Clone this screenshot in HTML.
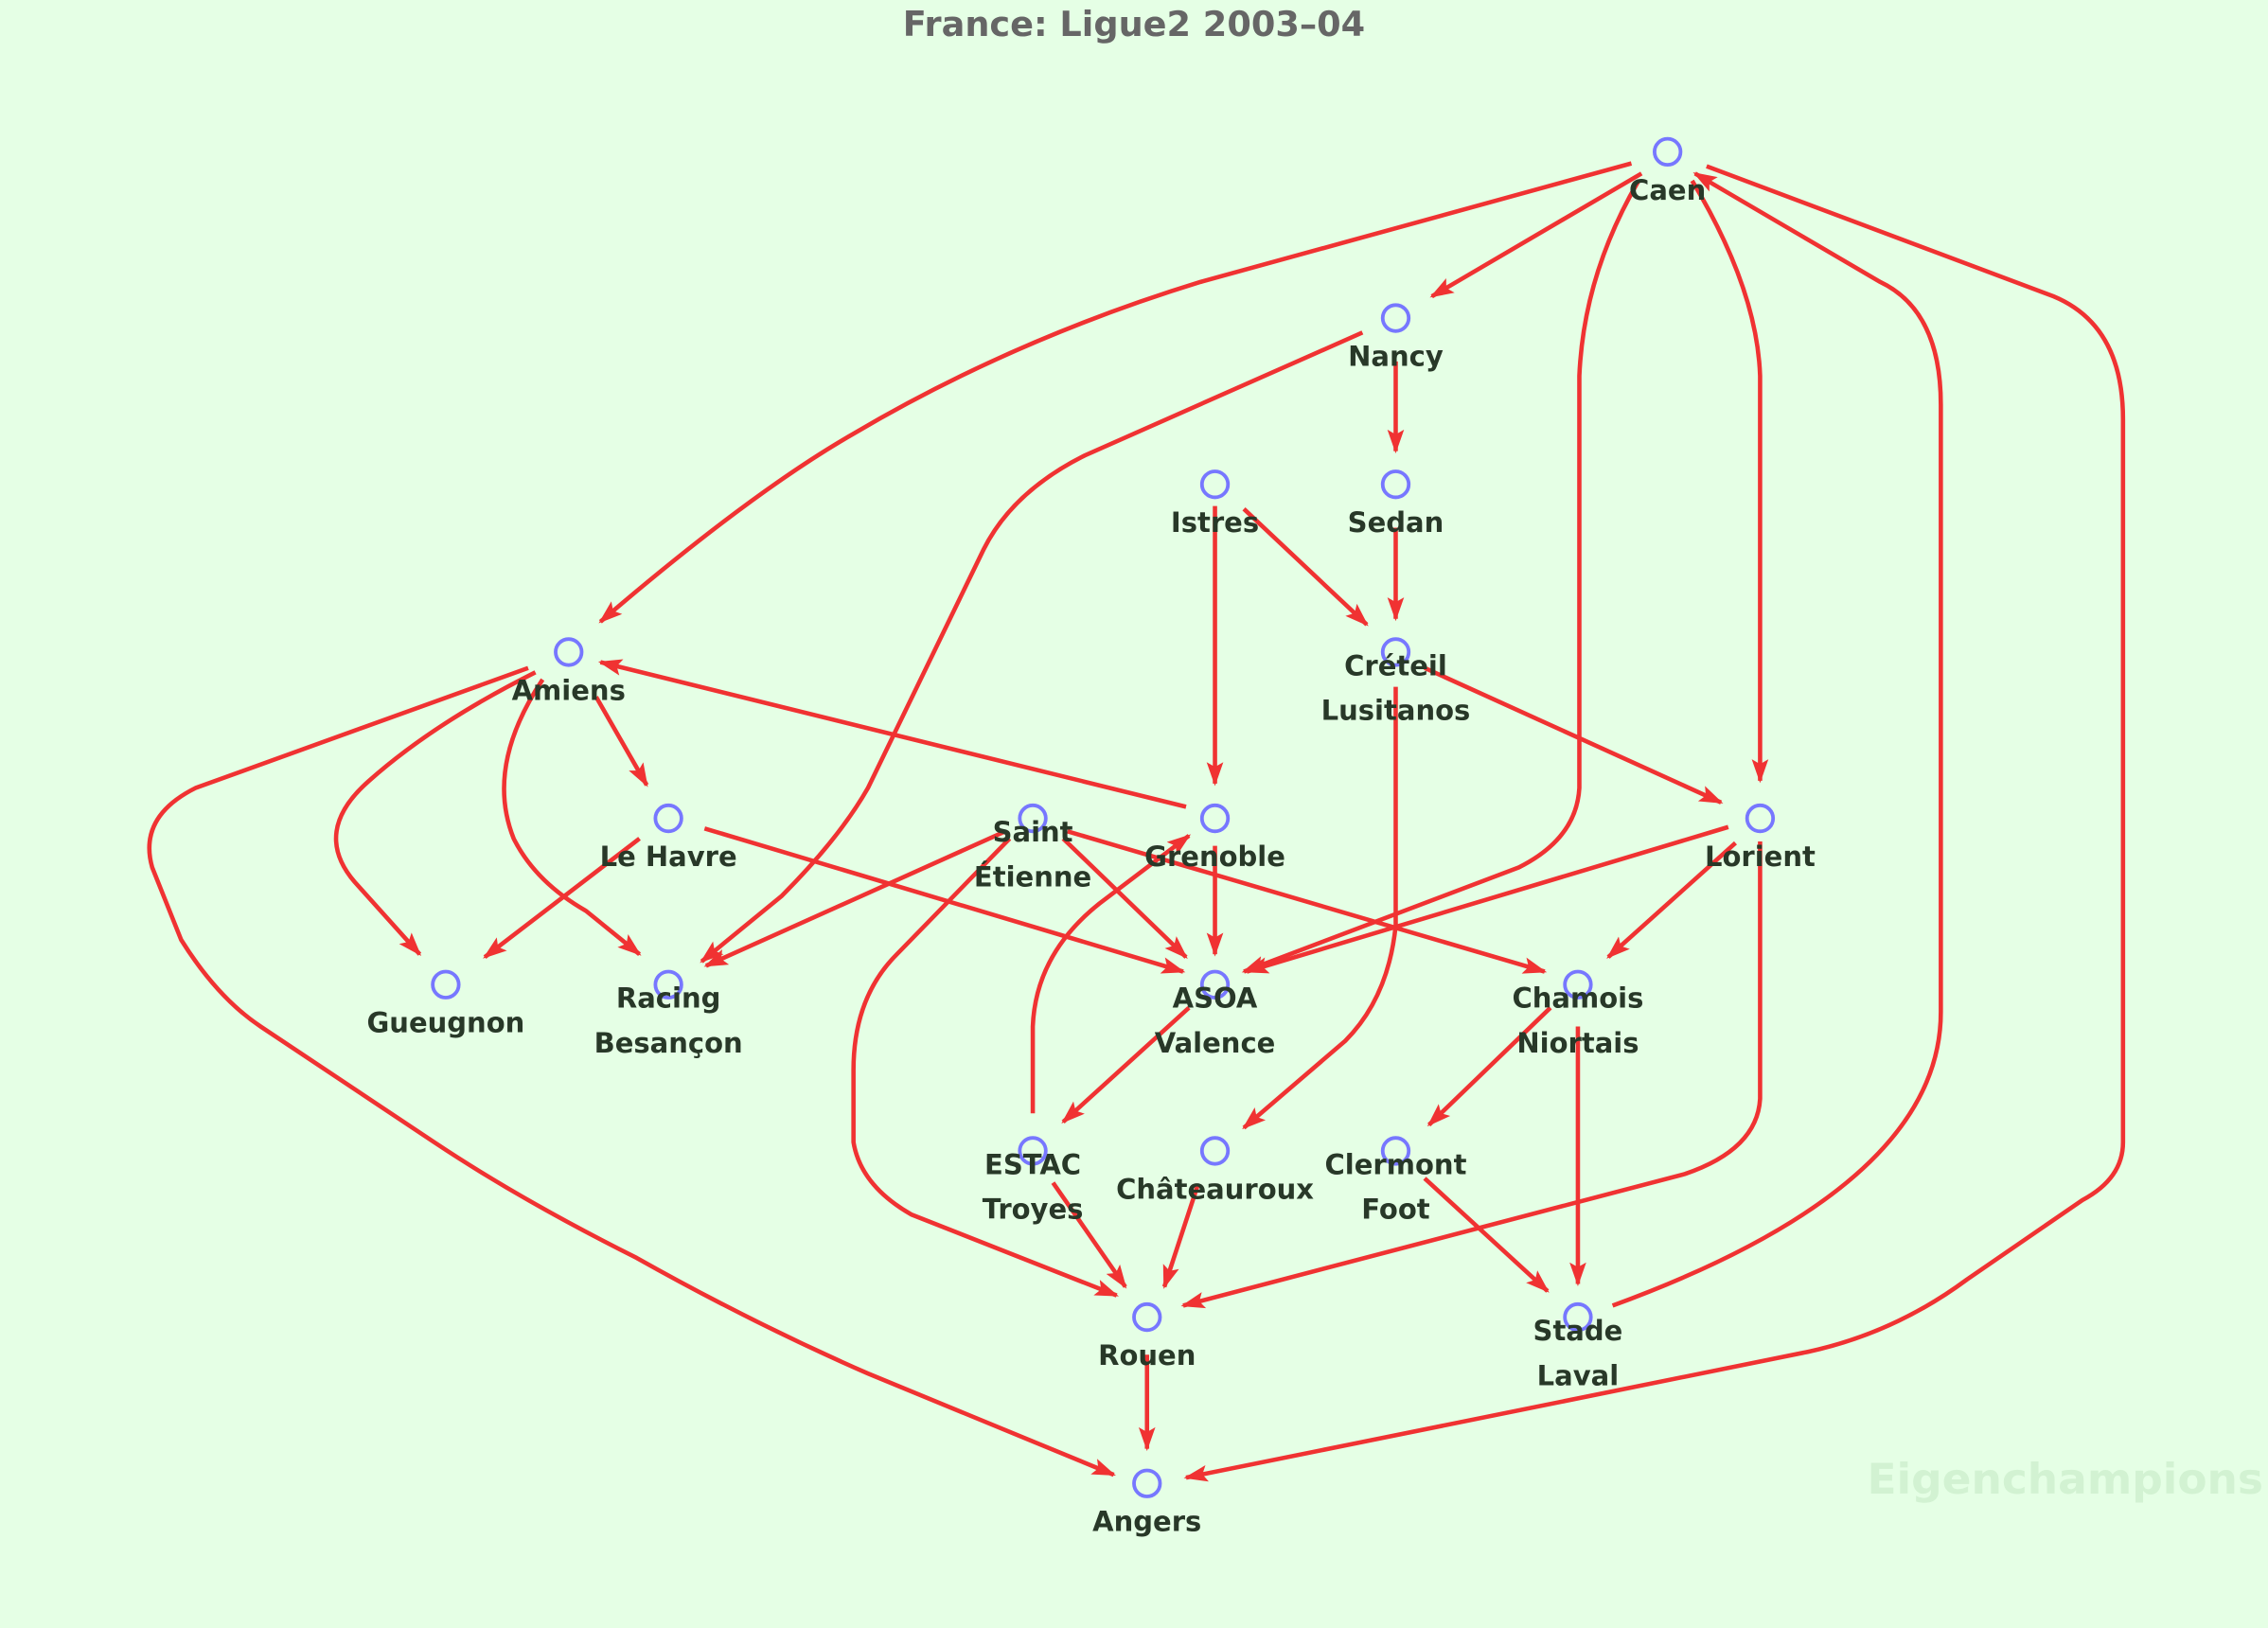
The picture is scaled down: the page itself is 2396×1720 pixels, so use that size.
<!DOCTYPE html>
<html><head><meta charset="utf-8"><style>
html,body{margin:0;padding:0;background:#e5ffe5;}
svg{display:block}
text{font-family:"DejaVu Sans","Liberation Sans",sans-serif;font-weight:bold;}
</style></head><body>
<svg width="2396" height="1720" viewBox="0 0 1568 1126" xmlns="http://www.w3.org/2000/svg">
<defs><marker id="a" viewBox="0 0 10 10" refX="9" refY="5" markerWidth="5.5" markerHeight="5.5" orient="auto" markerUnits="strokeWidth"><path d="M0,1.5 L10,5 L0,8.5 L2,5 z" fill="#f03232"/></marker></defs>
<rect width="1568" height="1126" fill="#e5ffe5"/>
<text x="784" y="25" text-anchor="middle" font-size="24" fill="#666">France: Ligue2 2003–04</text>
<text x="1428" y="1033" text-anchor="middle" font-size="29" fill="#d2f2d2" textLength="274" lengthAdjust="spacingAndGlyphs">Eigenchampions</text>
<g fill="none" stroke="#f03232" stroke-width="3" marker-end="url(#a)">
<path d="M1128,113 L830,195 Q700,235 590,300 Q520,340 415,430"/>
<path d="M1135,120 L990,205"/>
<path d="M1133,125 Q1095,190 1092,260 L1092,545 Q1090,580 1050,600 L860,672"/>
<path d="M1170,125 Q1215,200 1217,260 L1217,540"/>
<path d="M1115,903 Q1342,820 1342,700 L1342,280 Q1342,215 1300,195 L1172,120"/>
<path d="M1180,115 L1420,205 Q1468,225 1468,290 L1468,790 Q1468,815 1440,830 L1360,885 Q1310,922 1250,935 L820,1022"/>
<path d="M942,230 L750,315 Q700,340 680,380 L600,545 Q580,580 540,620 L485,665"/>
<path d="M965,250 L965,312"/>
<path d="M840,350 L840,542"/>
<path d="M860,352 L945,432"/>
<path d="M965,365 L965,428"/>
<path d="M985,462 L1190,555"/>
<path d="M965,475 L965,640 Q960,690 930,720 L860,780"/>
<path d="M820,558 L415,458"/>
<path d="M412,482 L447,543"/>
<path d="M370,465 Q300,500 255,540 Q215,575 245,610 L290,660"/>
<path d="M375,470 Q335,530 355,580 Q370,610 405,630 L442,660"/>
<path d="M365,462 L135,545 Q95,565 105,600 L125,650 Q150,690 180,710 L300,790 Q360,830 440,870 Q520,915 600,950 L770,1020"/>
<path d="M442,580 L335,662"/>
<path d="M487,573 L818,672"/>
<path d="M695,575 L488,668"/>
<path d="M735,580 L820,662"/>
<path d="M738,575 L1068,672"/>
<path d="M698,580 L620,660 Q590,690 590,740 L590,790 Q595,820 630,840 L772,896"/>
<path d="M840,585 L840,660"/>
<path d="M714,770 L714,710 Q716,660 760,625 L822,578"/>
<path d="M1195,572 L862,672"/>
<path d="M1200,583 L1112,662"/>
<path d="M1217,582 L1217,760 Q1215,795 1165,812 L818,903"/>
<path d="M822,697 L735,776"/>
<path d="M1072,697 L988,778"/>
<path d="M1091,710 L1091,888"/>
<path d="M728,818 L778,890"/>
<path d="M828,820 L805,890"/>
<path d="M985,815 L1070,893"/>
<path d="M793,937 L793,1002"/>
</g>
<g fill="none" stroke="#7777ff" stroke-width="2.5">
<circle cx="1153" cy="105" r="9"/><circle cx="965" cy="220" r="9"/><circle cx="840" cy="335" r="9"/><circle cx="965" cy="335" r="9"/>
<circle cx="393" cy="451" r="9"/><circle cx="965" cy="451" r="9"/><circle cx="462" cy="566" r="9"/><circle cx="714" cy="566" r="9"/>
<circle cx="840" cy="566" r="9"/><circle cx="1217" cy="566" r="9"/><circle cx="308" cy="681" r="9"/><circle cx="462" cy="681" r="9"/>
<circle cx="840" cy="681" r="9"/><circle cx="1091" cy="681" r="9"/><circle cx="714" cy="796" r="9"/><circle cx="840" cy="796" r="9"/>
<circle cx="965" cy="796" r="9"/><circle cx="793" cy="911" r="9"/><circle cx="1091" cy="911" r="9"/><circle cx="793" cy="1026" r="9"/>
</g>
<g font-size="19" fill="#283828" text-anchor="middle">
<text x="1153" y="138">Caen</text>
<text x="965" y="253">Nancy</text>
<text x="840" y="368">Istres</text>
<text x="965" y="368">Sedan</text>
<text x="393" y="484">Amiens</text>
<text x="965" y="467">Créteil</text><text x="965" y="498">Lusitanos</text>
<text x="462" y="599">Le Havre</text>
<text x="714" y="582">Saint</text><text x="714" y="613">Étienne</text>
<text x="840" y="599">Grenoble</text>
<text x="1217" y="599">Lorient</text>
<text x="308" y="714">Gueugnon</text>
<text x="462" y="697">Racing</text><text x="462" y="728">Besançon</text>
<text x="840" y="697">ASOA</text><text x="840" y="728">Valence</text>
<text x="1091" y="697">Chamois</text><text x="1091" y="728">Niortais</text>
<text x="714" y="812">ESTAC</text><text x="714" y="843">Troyes</text>
<text x="840" y="829">Châteauroux</text>
<text x="965" y="812">Clermont</text><text x="965" y="843">Foot</text>
<text x="793" y="944">Rouen</text>
<text x="1091" y="927">Stade</text><text x="1091" y="958">Laval</text>
<text x="793" y="1059">Angers</text>
</g>
</svg>
</body></html>
